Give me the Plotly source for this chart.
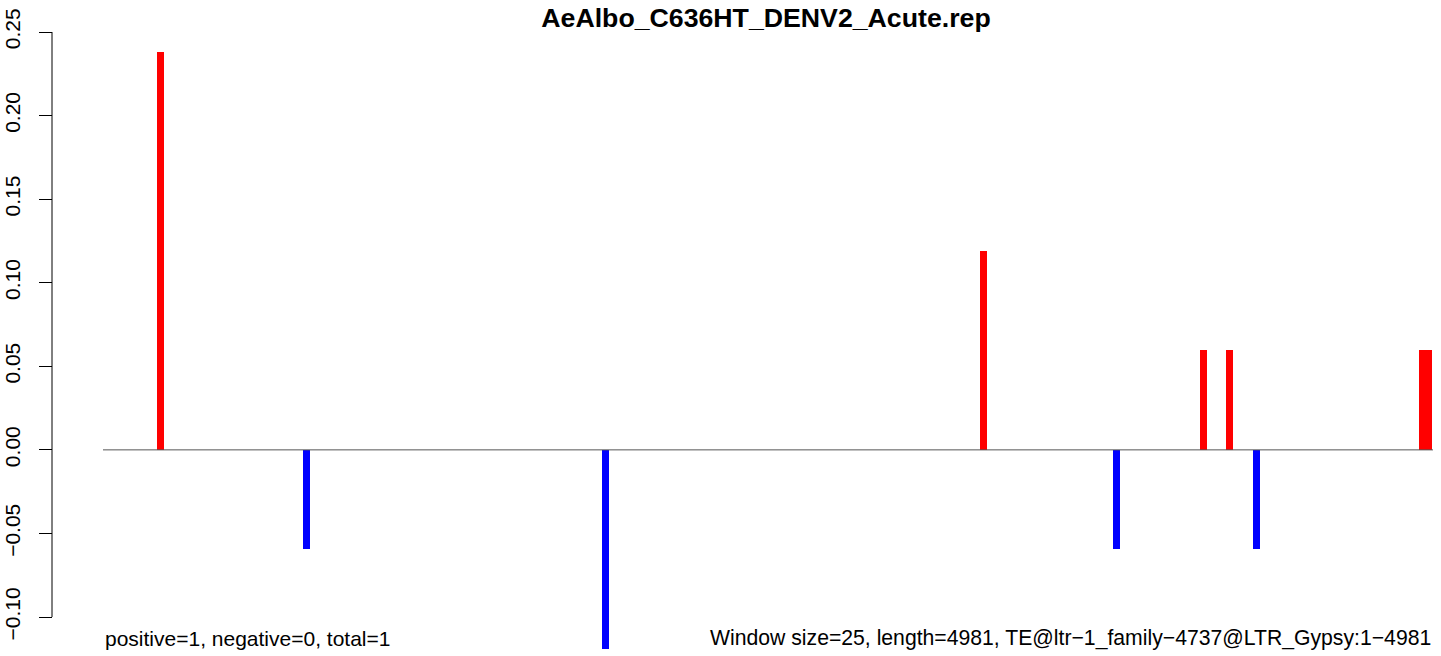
import plotly.graph_objects as go

# Data
window_size = 25
seq_length = 4981
window_starts = [202, 749, 1869, 3285, 3783, 4109, 4206, 4307, 4929, 4954]
values = [0.2381, -0.0595, -0.1190, 0.1190, -0.0595, 0.0595, 0.0595, -0.0595, 0.0595, 0.0595]
y_ticks = [-0.10, -0.05, 0.00, 0.05, 0.10, 0.15, 0.20, 0.25]

title_text = "AeAlbo_C636HT_DENV2_Acute.rep"
left_note = "positive=1, negative=0, total=1"
right_note = "Window size=25, length=4981, TE@ltr\u22121_family\u22124737@LTR_Gypsy:1\u22124981"

W, H = 1441, 656
FONT = "Liberation Sans, Arial, Helvetica, sans-serif"

centers = [s + window_size / 2 for s in window_starts]
colors = ["#FF0000" if v > 0 else "#0000FF" for v in values]

fig = go.Figure()
fig.add_trace(go.Bar(
    x=centers, y=values, width=[window_size] * len(values),
    marker=dict(color=colors, line=dict(width=0)),
    showlegend=False, hoverinfo="x+y",
))
# zero baseline across the sequence
fig.add_trace(go.Scatter(
    x=[0, seq_length], y=[0, 0], mode="lines",
    line=dict(color="#555555", width=1), showlegend=False, hoverinfo="skip",
))

# y range so that 0.25 -> pixel 32 and -0.10 -> pixel 617
ppu = (617 - 32) / 0.35
y_top = 0.25 + 32 / ppu
y_bot = -0.10 - (H - 617) / ppu

axis_x = 52 / W

fig.update_layout(
    width=W, height=H,
    margin=dict(l=0, r=0, t=0, b=0, autoexpand=False),
    paper_bgcolor="white", plot_bgcolor="white",
    bargap=0,
    font=dict(family=FONT, color="black"),
    title=dict(text="<b>" + title_text + "</b>", x=766 / W, xanchor="center",
               y=1 - 18 / H, yanchor="middle", automargin=False,
               font=dict(family=FONT, size=26.7, color="black")),
    xaxis=dict(visible=False, range=[0, seq_length],
               domain=[103 / W, 1433 / W], fixedrange=True),
    yaxis=dict(range=[y_bot, y_top], domain=[0, 1], anchor="free", position=axis_x,
               automargin=False,
               tickvals=y_ticks, ticktext=[("%.2f" % t).replace("-", "\u2212") for t in y_ticks],
               tickangle=-90, ticks="outside", ticklen=13, tickwidth=1, tickcolor="black",
               ticklabelstandoff=11,
               tickfont=dict(family=FONT, size=21, color="black"),
               showline=False, showgrid=False, zeroline=False, fixedrange=True),
    shapes=[dict(type="line", xref="paper", yref="y", x0=axis_x, x1=axis_x,
                 y0=y_ticks[0], y1=y_ticks[-1], line=dict(color="black", width=1))],
    annotations=[
        dict(text=left_note, xref="paper", yref="paper", x=103 / W, y=1 - 638 / H,
             xanchor="left", yanchor="middle", showarrow=False,
             font=dict(family=FONT, size=21, color="black")),
        dict(text=right_note, xref="paper", yref="paper", x=1433 / W, y=1 - 638 / H,
             xanchor="right", yanchor="middle", showarrow=False,
             font=dict(family=FONT, size=21.2, color="black")),
    ],
)

fig.write_html("out.html", config={"displayModeBar": False},
               post_script="document.body.style.margin='0';document.body.style.padding='0';")
